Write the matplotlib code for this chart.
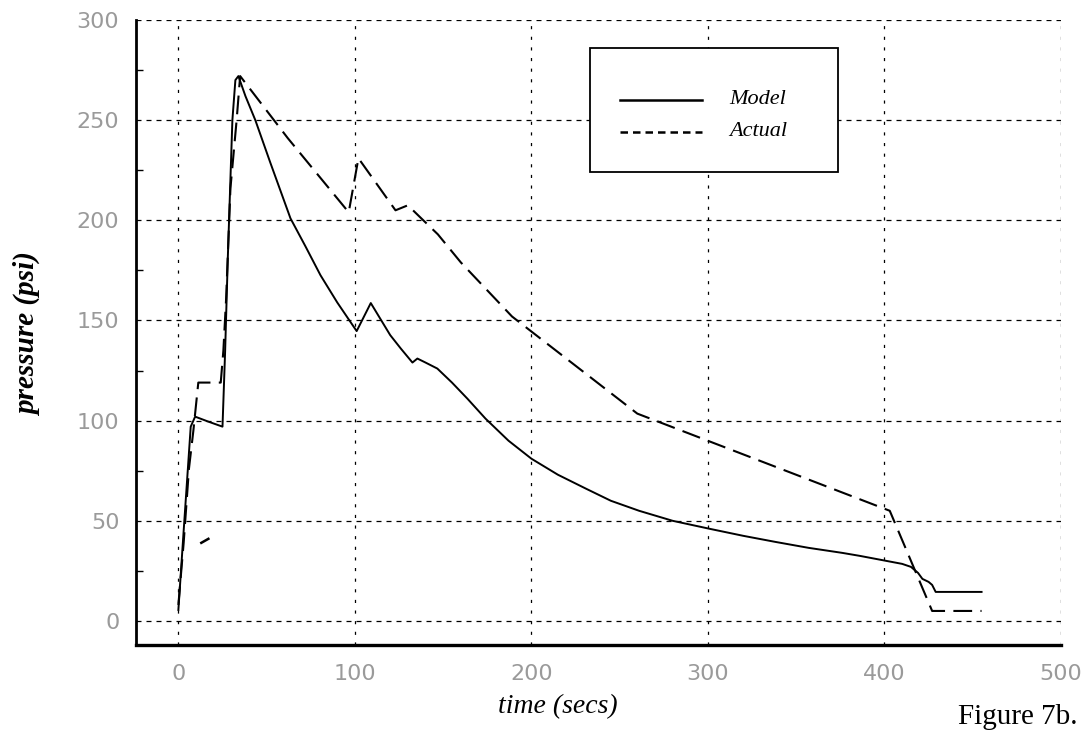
import matplotlib
matplotlib.use("Agg")
import matplotlib.pyplot as plt
from matplotlib.ticker import FixedLocator
from matplotlib.patches import Rectangle

# Model (solid) - time in secs, pressure in psi
model_t = [0, 3, 7, 9.5, 17, 25, 26.5, 28, 30.6, 32.3, 34, 38, 43.6, 52, 63.5,
           72, 80.5, 90, 101, 109, 120, 126, 132.6, 135.4, 140, 146.7, 155,
           163.7, 174, 187, 200, 215, 231, 245, 261, 280, 301, 320, 338, 357,
           376, 386, 401, 410, 415, 419, 421.5, 425, 427, 429, 455]
model_p = [5.5, 45, 97, 102, 99.5, 97, 135, 181, 250, 270, 272, 262, 250, 229, 201,
           187, 172.6, 159, 144.7, 158.7, 142.7, 136, 129, 131, 129, 126, 119,
           111, 101, 90, 81, 73, 66, 60, 55, 50, 46, 42.5, 39.5, 36.5,
           34, 32.5, 30, 28.5, 27, 24, 21, 19.5, 18, 14.5, 14.5]

# Actual (dashed)
actual_t = [0, 3, 6, 8.5, 11.3, 24, 25.5, 27, 29.5, 33, 35, 62, 96.5, 102, 123,
            130, 137, 147, 160, 189, 260, 301, 403, 427, 455]
actual_p = [8, 39, 76, 95, 119, 119, 135, 160, 216, 250, 272, 241, 204, 231, 205,
            207.5, 201.5, 193, 179, 152, 103.5, 89.6, 55, 5, 5]

# short stray piece of the actual trace
stray_t = [13, 17]
stray_p = [39, 41]

xticks = [0, 100, 200, 300, 400, 500]
yticks = [0, 50, 100, 150, 200, 250, 300]
yminor = [25, 75, 125, 175, 225, 275]

fig = plt.figure(figsize=(10.89, 7.32), dpi=100)
ax = fig.add_axes([136 / 1089, 1 - 645 / 732, 925 / 1089, 625 / 732])

ax.plot(model_t, model_p, color="black", lw=1.4, solid_joinstyle="round")
ax.plot(actual_t, actual_p, color="black", lw=1.5, linestyle=(0, (9, 4)))
ax.plot(stray_t, stray_p, color="black", lw=1.8)

ax.set_xlim(-24, 500)
ax.set_ylim(-12, 300)
ax.set_xticks(xticks)
ax.set_yticks(yticks)
ax.yaxis.set_minor_locator(FixedLocator(yminor))

ax.xaxis.grid(True, color="black", lw=0.9, linestyle=(0, (2.5, 6)))
ax.yaxis.grid(True, color="black", lw=0.9, linestyle=(0, (4, 4)))

ax.spines["top"].set_visible(False)
ax.spines["right"].set_visible(False)
ax.spines["left"].set_linewidth(2)
ax.spines["bottom"].set_linewidth(2.4)

ax.tick_params(which="major", length=0, labelsize=16, labelcolor="#9a9a9a")
ax.tick_params(axis="x", pad=14)
ax.tick_params(axis="y", pad=12)
ax.tick_params(which="minor", direction="in", length=5, width=1)

# legend box
ax.add_patch(Rectangle((0.491, 0.757), 0.268, 0.198, transform=ax.transAxes,
                       facecolor="white", edgecolor="black", lw=1.3, zorder=5))
ax.plot([0.523, 0.612], [0.872, 0.872], color="black", lw=1.8,
        transform=ax.transAxes, zorder=6)
ax.plot([0.523, 0.612], [0.821, 0.821], color="black", lw=1.8,
        linestyle=(0, (3, 2)), transform=ax.transAxes, zorder=6)
ax.text(0.641, 0.872, "Model", transform=ax.transAxes, fontsize=16,
        family="Liberation Serif", style="italic", va="center", zorder=6)
ax.text(0.641, 0.821, "Actual", transform=ax.transAxes, fontsize=16,
        family="Liberation Serif", style="italic", va="center", zorder=6)

fig.text(28 / 1089, 1 - 335 / 732, "pressure (psi)", rotation=90,
         ha="center", va="center", fontsize=21, family="Liberation Serif",
         style="italic", weight="bold")
fig.text(558 / 1089, 1 - 707 / 732, "time (secs)", ha="center", va="center",
         fontsize=20, family="Liberation Serif", style="italic")
fig.text(1018 / 1089, 1 - 717 / 732, "Figure 7b.", ha="center", va="center",
         fontsize=21, family="Liberation Serif")

fig.savefig("out.png", dpi=100)
